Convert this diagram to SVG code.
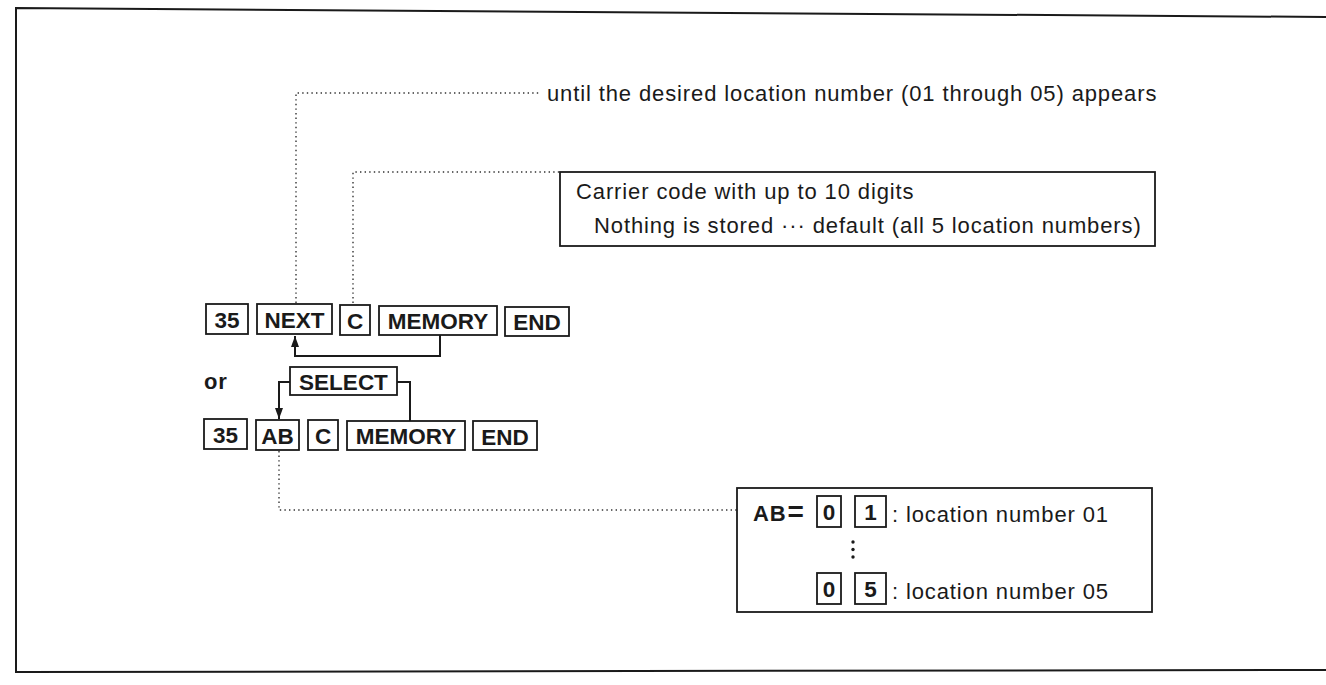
<svg xmlns="http://www.w3.org/2000/svg" width="1326" height="685" viewBox="0 0 1326 685">
<style>
.key{fill:#fff;stroke:#1a1a1a;stroke-width:1.8}
.kt{font-family:"Liberation Sans",Arial,sans-serif;font-weight:bold;font-size:22.5px;fill:#1a1a1a;text-anchor:middle}
.t{font-family:"Liberation Sans",Arial,sans-serif;font-size:22px;letter-spacing:0.88px;fill:#1a1a1a}
.dot{fill:none;stroke:#333;stroke-width:1.4;stroke-dasharray:1.4 3.2}
.sol{fill:none;stroke:#1a1a1a;stroke-width:2}
.box{fill:#fff;stroke:#1a1a1a;stroke-width:1.8}
</style>
<defs>
<marker id="ah" viewBox="0 0 10 10" refX="10" refY="5" markerWidth="11" markerHeight="8" markerUnits="userSpaceOnUse" orient="auto-start-reverse" preserveAspectRatio="none">
<path d="M0,0 L10,5 L0,10 z" fill="#1a1a1a"/>
</marker>
</defs>
<rect width="1326" height="685" fill="#fff"/>
<g id="frame">
<path d="M1326,17 L16,8 L16,672 L1326,670" fill="none" stroke="#1a1a1a" stroke-width="2"/>
</g>
<g id="connectors">
<path class="dot" d="M296,303 L296,93 L540,93"/>
<path class="dot" d="M353,303 L353,172 L560,172"/>
<path class="dot" d="M279,451 L279,510 L737,510"/>
<path class="sol" d="M440,335 L440,356 L295,356 L295,336" marker-end="url(#ah)"/>
<path class="sol" d="M290,382 L279,382 L279,419" marker-end="url(#ah)"/>
<path class="sol" d="M397,382 L410,382 L410,421"/>
</g>
<g id="label-until">
<text class="t" x="547" y="101">until the desired location number (01 through 05) appears</text>
</g>
<g id="carrier-note">
<rect class="box" x="560" y="172" width="595" height="74"/>
<text class="t" x="576" y="199">Carrier code with up to 10 digits</text>
<text class="t" x="594" y="233">Nothing is stored ··· default (all 5 location numbers)</text>
</g>
<g id="row1">
<g id="k1-35"><rect class="key" x="206" y="304" width="42" height="30"/><text class="kt" x="227" y="327.5">35</text></g>
<g id="k1-next"><rect class="key" x="257" y="304" width="75" height="30"/><text class="kt" x="294.5" y="327.5">NEXT</text></g>
<g id="k1-c"><rect class="key" x="340" y="305" width="30" height="30"/><text class="kt" x="355" y="328.5">C</text></g>
<g id="k1-memory"><rect class="key" x="379" y="306" width="118" height="29"/><text class="kt" x="438" y="329">MEMORY</text></g>
<g id="k1-end"><rect class="key" x="505" y="307" width="64" height="29"/><text class="kt" x="537" y="330">END</text></g>
</g>
<g id="or-label"><text class="t" x="204" y="389" font-weight="bold" letter-spacing="0">or</text></g>
<g id="select"><rect class="key" x="290" y="367" width="107" height="28"/><text class="kt" x="343.5" y="389.5">SELECT</text></g>
<g id="row2">
<g id="k2-35"><rect class="key" x="204" y="419" width="43" height="30"/><text class="kt" x="225.5" y="442.5">35</text></g>
<g id="k2-ab"><rect class="key" x="256" y="420" width="43" height="30"/><text class="kt" x="277.5" y="443.5">AB</text></g>
<g id="k2-c"><rect class="key" x="308" y="420" width="30" height="30"/><text class="kt" x="323" y="443.5">C</text></g>
<g id="k2-memory"><rect class="key" x="347" y="421" width="118" height="29"/><text class="kt" x="406" y="444">MEMORY</text></g>
<g id="k2-end"><rect class="key" x="473" y="421" width="64" height="29"/><text class="kt" x="505" y="444.5">END</text></g>
</g>
<g id="location-note">
<rect class="box" x="737" y="488" width="415" height="124"/>
<text class="t" x="753" y="521" font-weight="bold" letter-spacing="0">AB<tspan font-size="28" dx="1">=</tspan></text>
<rect class="key" x="817" y="496" width="24" height="31"/><text class="kt" x="829" y="519.5" font-size="21">0</text>
<rect class="key" x="855" y="496" width="31" height="31"/><text class="kt" x="870.5" y="519.5" font-size="21">1</text>
<text class="t" x="892" y="522">: location number 01</text>
<circle cx="853" cy="542" r="1.7" fill="#1a1a1a"/>
<circle cx="853" cy="549.5" r="1.7" fill="#1a1a1a"/>
<circle cx="853" cy="557" r="1.7" fill="#1a1a1a"/>
<rect class="key" x="817" y="573" width="24" height="31"/><text class="kt" x="829" y="596.5" font-size="21">0</text>
<rect class="key" x="855" y="573" width="31" height="31"/><text class="kt" x="870.5" y="596.5" font-size="21">5</text>
<text class="t" x="892" y="599">: location number 05</text>
</g>
</svg>
